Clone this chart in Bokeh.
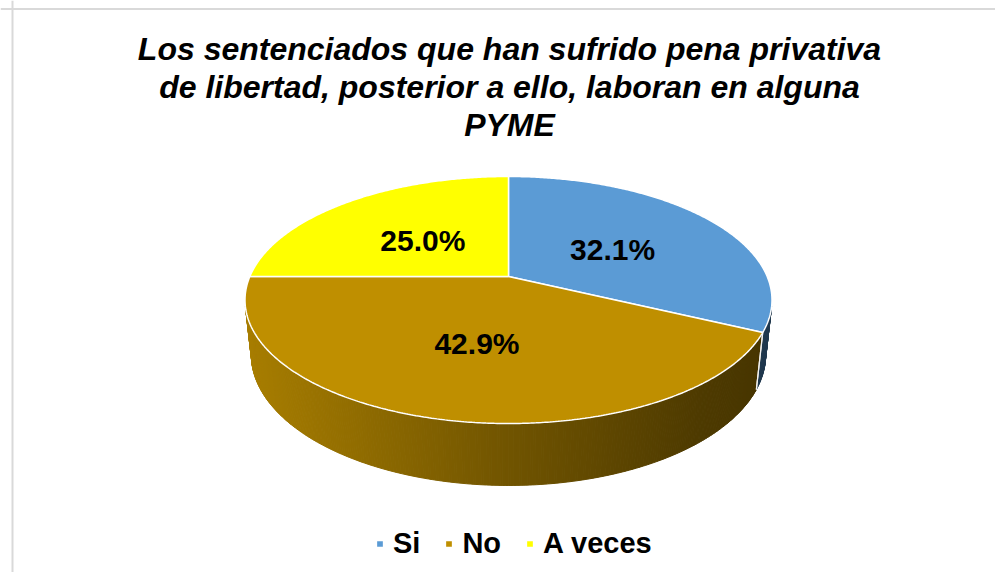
import numpy as np
from bokeh.plotting import figure
from bokeh.models import Range1d, Span, ColumnDataSource, Legend, LegendItem
from bokeh.core.properties import value
from bokeh.embed import file_html
from bokeh.resources import INLINE

# ---------------- data ----------------
categories = ["Si", "No", "A veces"]
percentages = [32.1, 42.9, 25.0]
colors = ["#5B9BD5", "#BF8F00", "#FFFF00"]
title_lines = [
    "Los sentenciados que han sufrido pena privativa",
    "de libertad, posterior a ello, laboran en alguna",
    "PYME",
]

# ---------------- 3D projection (style) ----------------
CX, CY = 508.0, 276.0
FOC = 1207.0
PHI = np.radians(27.4)
DIST = 4.666
THICK = 0.24
FONT = "Liberation Sans"


def project(theta, r=1.0, yw=0.0):
    X = r * np.sin(theta)
    Z = r * np.cos(theta)
    yc = yw * np.cos(PHI) + Z * np.sin(PHI)
    zc = -yw * np.sin(PHI) + Z * np.cos(PHI) + DIST
    return CX + FOC * X / zc, CY - FOC * yc / zc


def shade(hex_color, f):
    h = hex_color.lstrip("#")
    r, g, b = (int(h[i:i + 2], 16) for i in (0, 2, 4))
    return "#%02x%02x%02x" % (int(r * f), int(g * f), int(b * f))


vals = np.array(percentages, dtype=float)
fr = vals / vals.sum()
ends = np.cumsum(fr) * 2 * np.pi
starts = np.concatenate([[0.0], ends[:-1]])

# visible side range (silhouette tangents)
cam_z = DIST * np.cos(PHI)
vis0 = np.arccos(-1.0 / cam_z)
vis1 = 2 * np.pi - vis0

p = figure(width=995, height=572, x_range=Range1d(0, 995), y_range=Range1d(572, 0),
           output_backend="svg", toolbar_location=None, min_border=0,
           x_axis_location=None, y_axis_location=None, outline_line_color=None,
           background_fill_color="white", border_fill_color="white")
p.grid.visible = False

# chart border
p.add_layout(Span(location=12, dimension="height", line_color="#d9d9d9", line_width=2))
p.add_layout(Span(location=8.6, dimension="width", line_color="#d9d9d9", line_width=2))

# ---------------- side strips ----------------
sx, sy, sc = [], [], []
dividers_x, dividers_y = [], []
step = np.radians(0.5)
for a0, a1, col in zip(starts, ends, colors):
    lo, hi = max(a0, vis0), min(a1, vis1)
    if hi <= lo:
        continue
    n = max(2, int(np.ceil((hi - lo) / step)) + 1)
    th = np.linspace(lo, hi, n)
    for t0, t1 in zip(th[:-1], th[1:]):
        xt0, yt0 = project(t0)
        xt1, yt1 = project(t1)
        xb1, yb1 = project(t1, yw=-THICK)
        xb0, yb0 = project(t0, yw=-THICK)
        xm = (xt0 + xt1) / 2
        f = np.interp(xm, [245, 500, 700, 772], [0.88, 0.60, 0.41, 0.37])
        sx.append([xt0, xt1, xb1, xb0])
        sy.append([yt0, yt1, yb1, yb0])
        sc.append(shade(col, f))
    for a in (a0, a1):
        if vis0 < a < vis1:
            xa, ya = project(a)
            xb, yb = project(a, yw=-THICK)
            dividers_x.append([xa, xb])
            dividers_y.append([ya, yb])

p.patches(xs=sx, ys=sy, fill_color=sc, line_color=sc, line_width=1)
if dividers_x:
    p.multi_line(xs=dividers_x, ys=dividers_y, line_color="#f2f2f2", line_width=1.2)

# ---------------- top face ----------------
tx, ty = [], []
for a0, a1 in zip(starts, ends):
    n = max(3, int(np.ceil((a1 - a0) / step)) + 1)
    th = np.linspace(a0, a1, n)
    px, py = project(th)
    tx.append([CX] + list(px))
    ty.append([CY] + list(py))

top_src = ColumnDataSource(dict(xs=tx, ys=ty, color=colors, cat=categories))
top = p.patches(xs="xs", ys="ys", fill_color="color", line_color="white",
                line_width=1.5, source=top_src)

# ---------------- data labels ----------------
mids = (starts + ends) / 2
lx, ly = project(mids, r=0.5)
ly = ly + 3.5
p.text(x=lx, y=ly, text=[f"{v:.1f}%" for v in percentages], text_align="center",
       text_baseline="alphabetic", text_font=value(FONT), text_font_style="bold",
       text_font_size="30px", text_color="black")

# ---------------- title ----------------
p.text(x=[509, 509, 509], y=[48, 86, 124], text=title_lines, text_align="center",
       text_baseline="alphabetic", text_font=value(FONT), text_font_style="bold italic",
       text_font_size="32px", text_color="black")

# ---------------- legend ----------------
items = [LegendItem(label=c, renderers=[top], index=i) for i, c in enumerate(categories)]
legend = Legend(items=items, orientation="horizontal", location=(375, 12),
                glyph_width=9, glyph_height=9, label_standoff=9, spacing=24,
                label_text_font=FONT, label_text_font_style="bold",
                label_text_font_size="29px", label_text_color="black",
                border_line_color=None, background_fill_alpha=0,
                padding=0, margin=0)
p.add_layout(legend)

open("out.html", "w").write(file_html(p, INLINE))
